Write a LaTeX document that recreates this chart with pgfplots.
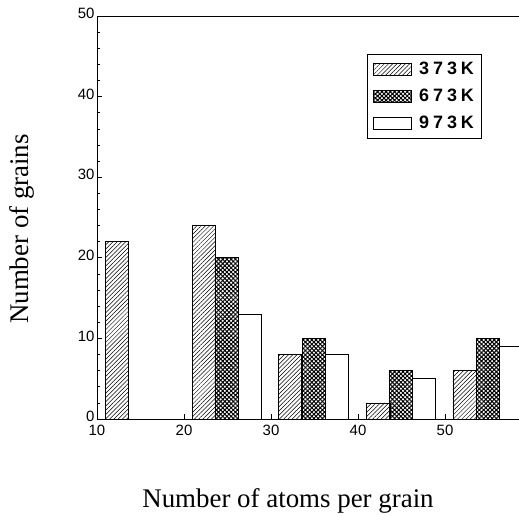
\documentclass[border=0pt]{standalone}
\usepackage{fontspec}
\setmainfont{Liberation Serif}
\newfontfamily\sansf{Liberation Sans}
\newfontfamily\legf[LetterSpace=22]{Liberation Sans}
\usepackage{pgfplots}
\pgfplotsset{compat=1.18}
\usetikzlibrary{patterns.meta}

\pgfplotsset{
  mybar/.style={ybar, bar width=2.68, bar shift=0pt, draw=black, line width=0.7bp,
    legend image code/.code={\draw[##1, line width=0.7bp] (0bp,-6bp) rectangle (38bp,6bp);\path (43bp,0bp);}},
}

\begin{document}
\begin{tikzpicture}
\begin{axis}[
  scale only axis, width=422bp, height=403bp,
  xmin=10, xmax=58.5, ymin=0, ymax=50,
  axis x line*=box, axis y line*=left,
  xtick={10,20,30,40,50}, ytick={0,10,...,50},
  minor y tick num=4,
  tick align=inside, xtick pos=bottom, ytick pos=left,
  major tick length=5bp, minor tick length=3bp,
  tick style={black, line width=0.6bp},
  axis line style={line width=0.8bp, -},
  ticklabel style={font=\sansf\fontsize{15}{17}\selectfont},
  /pgf/number format/assume math mode=true,
  xticklabel style={yshift=-2.5bp},
  yticklabel style={yshift=2.5bp, xshift=1bp},
  xlabel={Number of atoms per grain},
  ylabel={Number of grains},
  label style={font=\fontsize{27}{30}\selectfont},
  xlabel style={at={(axis description cs:0.4526,-0.2208)}, anchor=base},
  ylabel style={at={(axis description cs:-0.1777,0.4715)}, anchor=center},
  legend style={at={(axis description cs:0.64,0.906)}, anchor=north west, draw=black, line width=0.8bp,
    font=\legf\bfseries\fontsize{18}{21}\selectfont, inner xsep=6bp, inner ysep=6bp, row sep=9bp},
  legend cell align=left,
]
\addplot[mybar, pattern={Lines[angle=45,distance=3bp,line width=0.5bp]}]
  coordinates {(12.26,22) (22.28,24) (32.18,8) (42.35,2) (52.25,6)};
\addlegendentry{373K}
\addplot[mybar, pattern={Hatch[angle=45,distance=3bp,line width=1bp]}]
  coordinates {(24.9,20) (34.93,10) (44.95,6) (54.9,10)};
\addlegendentry{673K}
\addplot[mybar, fill=white]
  coordinates {(27.58,13) (37.6,8) (47.6,5) (57.57,9)};
\addlegendentry{973K}
\coordinate (BL) at (rel axis cs:0,0);
\coordinate (TR) at (rel axis cs:1,1);
\end{axis}
\pgfresetboundingbox
\path[use as bounding box] ([xshift=-97bp,yshift=-97bp]BL) rectangle ([yshift=16bp]TR);
\end{tikzpicture}
\end{document}
